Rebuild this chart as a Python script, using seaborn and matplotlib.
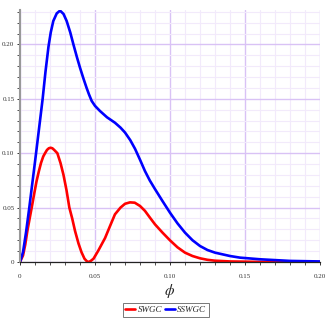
import numpy as np
import pandas as pd
import seaborn as sns
import matplotlib.pyplot as plt
from matplotlib.ticker import MultipleLocator, FixedLocator

# values
phi_swgc = [0.0, 0.002, 0.0035, 0.0049, 0.0063, 0.0078, 0.0095, 0.011, 0.0125, 0.014, 0.0155, 0.0167,
            0.018, 0.0192, 0.0204, 0.0216, 0.0228, 0.0249, 0.027, 0.029, 0.031, 0.0329, 0.0348, 0.0367,
            0.039, 0.041, 0.043, 0.0445, 0.0456, 0.047, 0.049, 0.052, 0.0567, 0.06, 0.0633, 0.067, 0.070,
            0.0733, 0.0765, 0.080, 0.0833, 0.0865, 0.09, 0.095, 0.10, 0.105, 0.11, 0.115, 0.12, 0.125,
            0.13, 0.14, 0.16, 0.20]
swgc = [0.0, 0.006, 0.016, 0.0285, 0.039, 0.05, 0.063, 0.074, 0.083, 0.091, 0.097, 0.100,
        0.103, 0.1045, 0.105, 0.1045, 0.103, 0.100, 0.091, 0.080, 0.066, 0.05, 0.04, 0.0285,
        0.017, 0.009, 0.003, 0.0008, 0.0, 0.0008, 0.003, 0.010, 0.022, 0.033, 0.0438, 0.050, 0.0535,
        0.0548, 0.0545, 0.0515, 0.047, 0.041, 0.0346, 0.027, 0.0199, 0.0135, 0.0086, 0.0055, 0.0034, 0.002,
        0.0012, 0.0005, 0.0001, 0.0]

phi_sswgc = [0.0, 0.002, 0.004, 0.0062, 0.008, 0.01, 0.0122, 0.0137, 0.0151, 0.017, 0.019, 0.0205,
             0.0222, 0.0245, 0.0267, 0.029, 0.0311, 0.0335, 0.0356, 0.038, 0.04, 0.0422, 0.0444, 0.046,
             0.0478, 0.050, 0.0533, 0.058, 0.0633, 0.067, 0.07, 0.0735, 0.0767, 0.080, 0.0833, 0.0865,
             0.09, 0.095, 0.10, 0.105, 0.11, 0.115, 0.12, 0.125, 0.13, 0.14, 0.1467, 0.16, 0.18, 0.20]
sswgc = [0.0, 0.009, 0.027, 0.05, 0.07, 0.092, 0.117, 0.134, 0.15, 0.175, 0.198, 0.211,
         0.2215, 0.2285, 0.231, 0.228, 0.2215, 0.211, 0.20, 0.188, 0.1786, 0.169, 0.160, 0.154,
         0.148, 0.1435, 0.1388, 0.133, 0.128, 0.1235, 0.119, 0.112, 0.104, 0.094, 0.0836, 0.075,
         0.067, 0.056, 0.0453, 0.0355, 0.027, 0.020, 0.0147, 0.011, 0.0086, 0.0055, 0.004, 0.0025, 0.001, 0.0005]

df = pd.concat([
    pd.DataFrame({'phi': phi_swgc, 'val': swgc, 'curve': 'SWGC'}),
    pd.DataFrame({'phi': phi_sswgc, 'val': sswgc, 'curve': 'SSWGC'}),
], ignore_index=True)

sns.set_style('white')
plt.rcParams['font.family'] = ['Liberation Serif', 'DejaVu Serif']
plt.rcParams['mathtext.fontset'] = 'stix'

fig = plt.figure(figsize=(3.27, 3.27), dpi=100)
ax = fig.add_axes([20 / 327, 1 - 262 / 327, 300 / 327, 252 / 327])

sns.lineplot(data=df, x='phi', y='val', hue='curve', palette={'SWGC': '#ff0000', 'SSWGC': '#0000ff'},
             linewidth=1.9, ax=ax, sort=False, estimator=None, solid_joinstyle='round',
             solid_capstyle='round')

ax.set_xlim(0, 0.2)
ax.set_ylim(0, 0.2316)

ax.xaxis.set_major_locator(FixedLocator([0, 0.05, 0.10, 0.15, 0.20]))
ax.yaxis.set_major_locator(FixedLocator([0, 0.05, 0.10, 0.15, 0.20]))
ax.set_xticklabels(['0', '0.05', '0.10', '0.15', '0.20'])
ax.set_yticklabels(['0', '0.05', '0.10', '0.15', '0.20'])
ax.xaxis.set_minor_locator(MultipleLocator(0.01))
ax.yaxis.set_minor_locator(MultipleLocator(0.01))

ax.grid(which='major', color='#d9c2f5', linewidth=1.0)
ax.grid(which='minor', color='#f2eafb', linewidth=0.8)
ax.set_axisbelow(True)

ax.tick_params(which='both', direction='out', labelsize=5, colors='#333333')
ax.tick_params(axis='y', pad=1.5)
ax.tick_params(axis='x', pad=6)
ax.tick_params(which='major', length=2.5, width=0.7)
ax.tick_params(which='minor', length=2, width=0.6)
ax.tick_params(axis='both', which='both', bottom=True, left=True)

for s in ['top', 'right']:
    ax.spines[s].set_visible(False)
ax.spines['bottom'].set_color('#222222')
ax.spines['bottom'].set_linewidth(0.9)
ax.spines['left'].set_color('#999999')
ax.spines['left'].set_linewidth(1.5)

ax.set_xlabel(r'$\phi$', fontsize=11, labelpad=2)
ax.set_ylabel('')

leg = ax.legend(loc='upper center', bbox_to_anchor=(0.485, -0.163), ncol=2, frameon=True, fancybox=False,
                edgecolor='#555555', handlelength=1.1, handletextpad=0.25, columnspacing=0.3,
                borderpad=0.3, borderaxespad=0, prop={'style': 'italic', 'size': 6.5})
leg.get_frame().set_linewidth(0.7)

fig.savefig('out.png', dpi=100)
